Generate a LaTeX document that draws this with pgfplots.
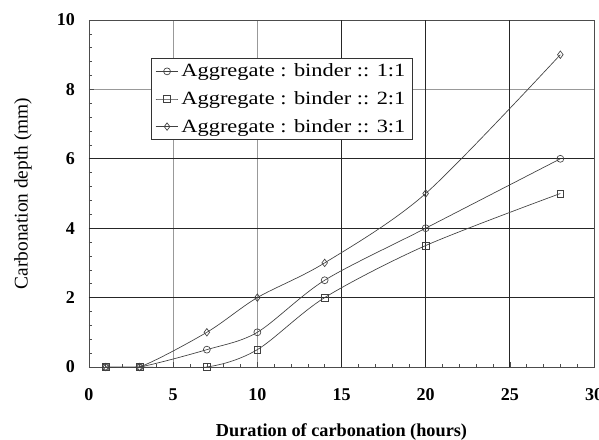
\documentclass[border=0pt]{standalone}
\usepackage{pgfplots}
\pgfplotsset{compat=1.18}
\usepackage{fontspec}
\setmainfont{Liberation Serif}
% slightly widened serif for the legend entries
\newfontfamily\legendfam[FakeStretch=1.2]{Liberation Serif}

\pgfplotstableread{
t   d
1   0
3   0
7   0.5
10  1
14  2.5
20  4
28  6
}\ratioA
\pgfplotstableread{
t   d
1   0
3   0
7   0
10  0.5
14  2
20  3.5
28  5
}\ratioB
\pgfplotstableread{
t   d
1   0
3   0
7   1
10  2
14  3
20  5
28  9
}\ratioC

\begin{document}
\begin{tikzpicture}
\clip (-66.75pt,-54pt) rectangle (382.5pt,275.25pt);
\begin{axis}[
  scale only axis,
  width=378.75pt, height=260.25pt,
  xmin=0, xmax=30, ymin=0, ymax=10,
  xtick={0,5,...,30}, ytick={0,2,...,10},
  minor x tick num=4, minor y tick num=4,
  tick pos=left, tick align=inside,
  major tick length=4pt, minor tick length=2.5pt,
  axis line style={draw=black!70, line width=0.6pt},
  every tick/.style={black!70, line width=0.5pt},
  grid=major,
  major grid style={draw=black!40, line width=0.6pt},
  extra x ticks={15,20,25}, extra x tick labels={},
  extra y ticks={2,4,6}, extra y tick labels={},
  extra tick style={grid=major, major grid style={draw=black!85, line width=0.6pt}, major tick length=0pt},
  /pgf/number format/assume math mode=true,
  ticklabel style={font=\fontsize{13.5}{16}\selectfont\bfseries},
  yticklabel style={xshift=-7pt},
  xticklabel style={yshift=-12.75pt},
  xlabel={\textbf{Duration of carbonation (hours)}},
  ylabel={Carbonation depth (mm)},
  xlabel style={at={(axis description cs:0.5,-0.1873)}, anchor=center, font=\fontsize{13.7}{16}\selectfont},
  ylabel style={at={(axis description cs:-0.1307,0.5)}, anchor=center, font=\fontsize{14.5}{17}\selectfont},
  legend style={at={(axis cs:3.68,8.9)}, anchor=north west,
    draw=black!80, line width=0.6pt, fill=white,
    font=\legendfam\fontsize{14}{17}\selectfont,
    row sep=5.5pt, inner xsep=3pt, inner ysep=2pt},
  legend cell align=left,
  every axis plot/.append style={smooth, tension=0.5, line width=0.5pt},
]
\addplot[draw=black!75, mark=o, mark size=2.6pt,
  mark options={fill=white, draw=black!75, line width=0.5pt}] table {\ratioA};
\addlegendentry{Aggregate : binder :: 1:1}
\addplot[draw=black!75, mark=square, mark size=2.6pt,
  mark options={fill=white, draw=black!75, line width=0.5pt}] table {\ratioB};
\addlegendentry{Aggregate : binder :: 2:1}
\addplot[draw=black!75, mark=diamond, mark size=2.8pt,
  mark options={fill=white, draw=black!75, line width=0.5pt}] table {\ratioC};
\addlegendentry{Aggregate : binder :: 3:1}
\end{axis}
\end{tikzpicture}
\end{document}
